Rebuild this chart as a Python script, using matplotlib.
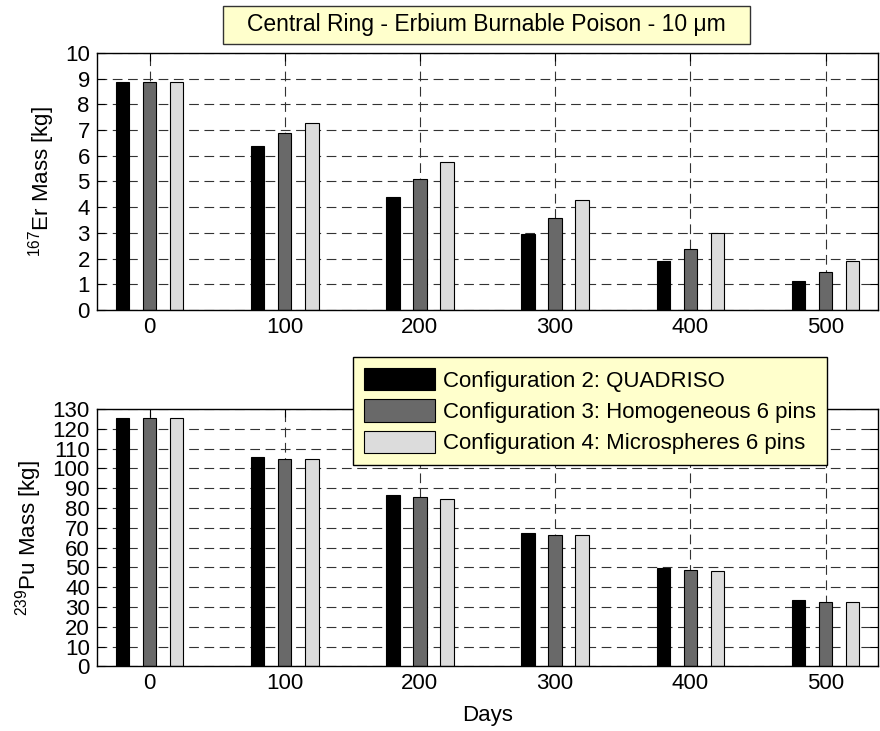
import matplotlib
matplotlib.use("Agg")
import matplotlib.pyplot as plt
from matplotlib.patches import Rectangle
import numpy as np

plt.rcParams['font.family'] = ['Liberation Sans', 'DejaVu Sans']
plt.rcParams['mathtext.fontset'] = 'custom'
plt.rcParams['mathtext.rm'] = 'Liberation Sans'
plt.rcParams['lines.scale_dashes'] = False

days = [0, 100, 200, 300, 400, 500]
series_labels = ["Configuration 2: QUADRISO",
                 "Configuration 3: Homogeneous 6 pins",
                 "Configuration 4: Microspheres 6 pins"]
series_colors = ["#000000", "#696969", "#DCDCDC"]

er_quadriso = [8.88, 6.37, 4.40, 2.95, 1.90, 1.13]
er_homog = [8.88, 6.87, 5.10, 3.56, 2.38, 1.48]
er_micro = [8.87, 7.28, 5.74, 4.26, 3.01, 1.89]

pu_quadriso = [125.5, 105.6, 86.6, 67.2, 49.9, 33.6]
pu_homog = [125.5, 104.6, 85.4, 66.2, 48.9, 32.6]
pu_micro = [125.3, 104.6, 84.4, 66.2, 48.1, 32.6]

title = "Central Ring - Erbium Burnable Poison - 10 \u03bcm"

fig = plt.figure(figsize=(8.8, 7.31), dpi=100)
ax1 = fig.add_axes([0.110, 0.576, 0.888, 0.3515])
ax2 = fig.add_axes([0.110, 0.0885, 0.888, 0.352])

offsets = [-20, 0, 20]
width = 10
x = np.array(days, dtype=float)
FS = 16

def draw(ax, data, ymax, yticks, ylabel):
    ax.set_axisbelow(True)
    bars = []
    for off, vals, col, lab in zip(offsets, data, series_colors, series_labels):
        b = ax.bar(x + off, vals, width=width, color=col, edgecolor='black',
                   linewidth=0.8, label=lab)
        bars.append(b)
    ax.set_xlim(-39, 539)
    ax.set_ylim(0, ymax)
    ax.set_xticks(days)
    ax.set_xticklabels([str(d) for d in days])
    ax.set_yticks(yticks)
    ax.grid(True, color='#333333', linestyle=(0, (7, 4)), linewidth=0.8)
    ax.tick_params(direction='in', top=True, right=True, length=6,
                   width=0.8, labelsize=FS, pad=5)
    for s in ax.spines.values():
        s.set_linewidth(1.0)
    ax.set_ylabel(ylabel, fontsize=FS, labelpad=6)
    return bars

draw(ax1, [er_quadriso, er_homog, er_micro], 10, np.arange(0, 11, 1),
     r'$\mathregular{^{167}}$Er Mass [kg]')
bars = draw(ax2, [pu_quadriso, pu_homog, pu_micro], 130, np.arange(0, 131, 10),
            r'$\mathregular{^{239}}$Pu Mass [kg]')
ax2.set_xlabel("Days", fontsize=FS, labelpad=8)

# title box
fig.patches.append(Rectangle((223 / 880, 1 - 44 / 731), 527 / 880, 38 / 731,
                             transform=fig.transFigure, facecolor='#FFFFCC',
                             edgecolor='#333333', linewidth=1.0, zorder=5))
fig.text(486.5 / 880, 1 - 25 / 731, title, ha='center', va='center',
         fontsize=16.5, zorder=6)

leg = ax2.legend(loc='upper left', bbox_to_anchor=(353 / 880, 1 - 357 / 731),
                 bbox_transform=fig.transFigure, borderaxespad=0,
                 fontsize=FS, fancybox=False, framealpha=1,
                 facecolor='#FFFFCC', edgecolor='black',
                 handlelength=3.2, handleheight=1.15, handletextpad=0.35,
                 labelspacing=0.35, borderpad=0.5)
leg.get_frame().set_linewidth(1.0)
leg.set_zorder(10)

fig.savefig("out.png", dpi=100)
